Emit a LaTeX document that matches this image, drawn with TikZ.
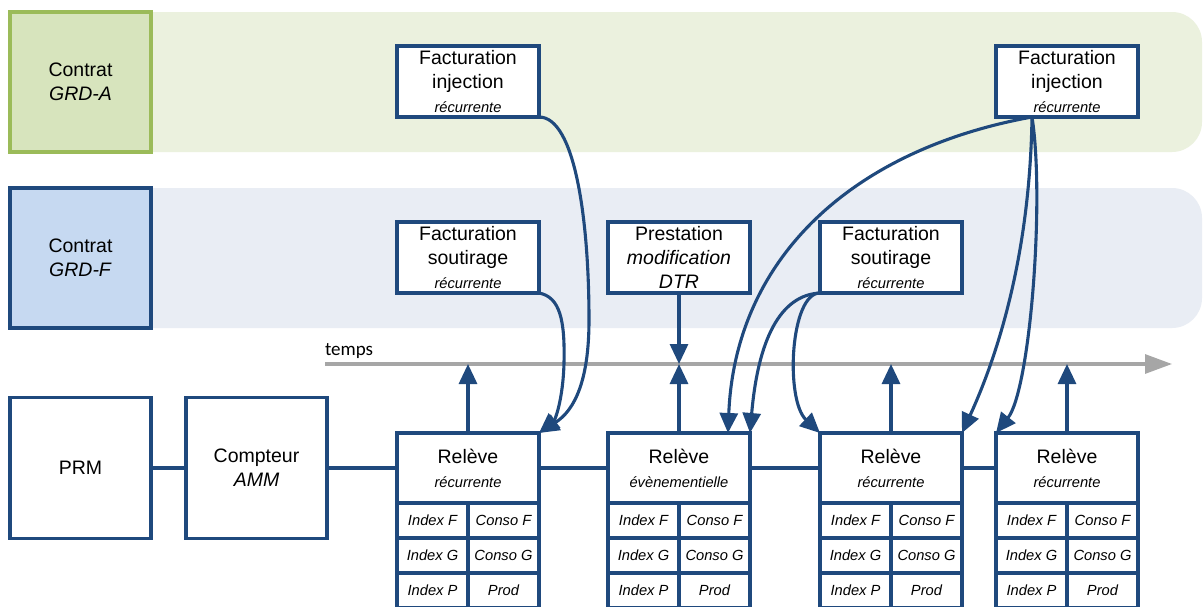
\documentclass[tikz,border=0pt]{standalone}
\usepackage{fontspec}
\setmainfont{Liberation Sans}
\newfontfamily\labelfont{Carlito}
\usetikzlibrary{arrows.meta}

\definecolor{navy}{HTML}{1F497D}
\definecolor{bandgreen}{HTML}{EBF1DE}
\definecolor{boxgreen}{HTML}{D7E4BD}
\definecolor{edgegreen}{HTML}{9BBB59}
\definecolor{bandblue}{HTML}{E9EDF4}
\definecolor{boxblue}{HTML}{C6D9F1}
\definecolor{timegray}{HTML}{A6A6A6}

% small italic sub-caption used inside the boxes
\newcommand\subcap[1]{{\fontsize{14.7}{17}\selectfont\itshape #1}}

\tikzset{
  every node/.style={inner sep=0pt, outer sep=0pt},
  box/.style={draw=navy, line width=3.1pt, fill=white, minimum width=142pt,
    minimum height=71pt, align=center, font=\fontsize{19.5}{24}\selectfont},
  bigbox/.style={box, minimum width=141pt, minimum height=141pt},
  contract/.style={line width=3.1pt, minimum width=141pt, minimum height=140pt,
    align=center, font=\fontsize{19.5}{24}\selectfont},
  cell/.style={draw=navy, line width=3.1pt, fill=white, minimum width=71pt,
    minimum height=35pt, font=\fontsize{14.7}{17}\selectfont\itshape},
  link/.style={draw=navy, line width=3.1pt},
  arr/.style={link, -{Triangle[length=20pt,width=18pt]}},
  timeline/.style={draw=timegray, line width=3.1pt, -{Triangle[length=27pt,width=19pt]}},
}

\begin{document}
\begin{tikzpicture}[x=1pt, y=-1pt]
\useasboundingbox (0,0) rectangle (1203,606);
\clip (0,0) rectangle (1203,606);
\fill[white] (0,0) rectangle (1203,606);

% contract bands
\fill[bandgreen, rounded corners=30pt] (60,12) rectangle (1202,152);
\fill[bandblue, rounded corners=30pt] (60,188) rectangle (1202,328);
\node[contract, fill=boxgreen, draw=edgegreen] (ca) at (80.5,82) {Contrat\\\textit{GRD-A}};
\node[contract, fill=boxblue, draw=navy] (cf) at (80.5,258) {Contrat\\\textit{GRD-F}};

% billing and service boxes
\node[box] (fi1) at (468,81.5) {Facturation\\injection\\\subcap{récurrente}};
\node[box] (fi2) at (1067,81.5) {Facturation\\injection\\\subcap{récurrente}};
\node[box] (fs1) at (468,257.5) {Facturation\\soutirage\\\subcap{récurrente}};
\node[box] (pm) at (679,257.5) {Prestation\\\textit{modification}\\\textit{DTR}};
\node[box] (fs2) at (891,257.5) {Facturation\\soutirage\\\subcap{récurrente}};

% time axis
\coordinate (tl0) at (325,364);
\coordinate (tl1) at (1172,364);
\draw[timeline] (tl0) -- (tl1);
\node[anchor=base west, font=\labelfont\fontsize{19}{22}\selectfont] (tlabel) at (325,355) {temps};

% metering point and meter
\node[bigbox] (prm) at (80.5,468) {PRM};
\node[bigbox] (cpt) at (256.5,468) {Compteur\\\textit{AMM}};
\draw[link] (prm.east) -- (cpt.west);

% readings with their index / consumption tables
\foreach \n/\x/\sub in {rl1/468/récurrente, rl2/679/évènementielle, rl3/891/récurrente, rl4/1067/récurrente}{
  \node[box, minimum height=70pt] (\n) at (\x,468) {Relève\\\subcap{\sub}};
  \node[cell, anchor=north east] (\n-if) at (\n.south) {Index F};
  \node[cell, anchor=north west] (\n-cf) at (\n.south) {Conso F};
  \node[cell, anchor=north] (\n-ig) at (\n-if.south) {Index G};
  \node[cell, anchor=north] (\n-cg) at (\n-cf.south) {Conso G};
  \node[cell, anchor=north] (\n-ip) at (\n-ig.south) {Index P};
  \node[cell, anchor=north] (\n-pd) at (\n-cg.south) {Prod};
  \draw[arr] (\n.north) -- (\n.north |- tl0);
}
\draw[link] (cpt.east) -- (rl1.west);
\draw[link] (rl1.east) -- (rl2.west);
\draw[link] (rl2.east) -- (rl3.west);
\draw[link] (rl3.east) -- (rl4.west);

% event-driven service points on the axis
\draw[arr] (pm.south) -- (pm.south |- tl0);

% billing links to the readings
\draw[arr] (fi1.south east) .. controls (575,117) and (589,220) .. (589,320)
  .. controls (589,380) and (575,410) .. (rl1.north east);
\draw[arr] (fs1.south east) .. controls (560,297) and (565,320) .. (564,363)
  .. controls (563,400) and (555,420) .. (rl1.north east);
\coordinate (fi2s) at ([xshift=36pt]fi2.south west);
\draw[arr] (fi2s) .. controls (850,150) and (735,260) .. ([xshift=-22pt]rl2.north east);
\draw[arr] (fs2.south west) .. controls (780,295) and (758,340) .. (rl2.north east);
\draw[arr] (fs2.south west) .. controls (790,293) and (785,400) .. (rl3.north west);
\draw[arr] (fi2s) .. controls (1030,250) and (1000,350) .. (rl3.north east);
\draw[arr] (fi2s) .. controls (1045,200) and (1030,390) .. (rl4.north west);
\end{tikzpicture}
\end{document}
